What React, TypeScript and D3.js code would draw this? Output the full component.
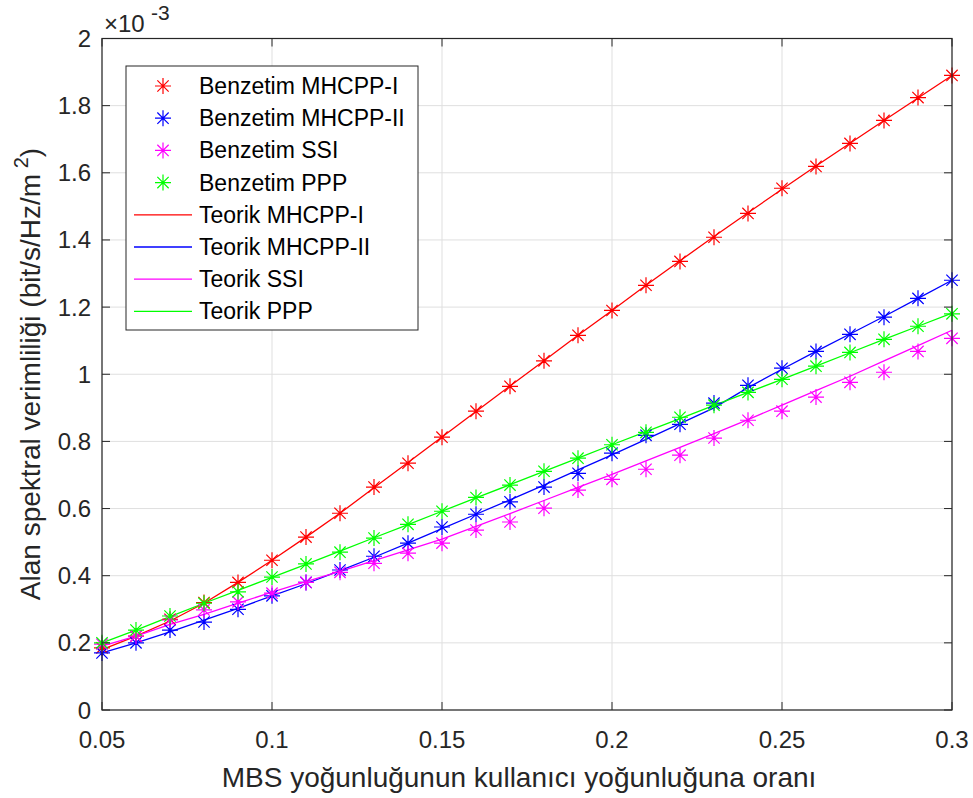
import React from "react";
import * as d3 from "d3";

const xs = [0.05,0.06,0.07,0.08,0.09,0.1,0.11,0.12,0.13,0.14,0.15,0.16,0.17,0.18,0.19,0.2,0.21,0.22,0.23,0.24,0.25,0.26,0.27,0.28,0.29,0.3];

const simMHCPP1 = [0.185,0.22,0.27,0.32,0.38,0.446,0.515,0.586,0.664,0.735,0.8125,0.89,0.964,1.04,1.116,1.19,1.265,1.336,1.408,1.479,1.554,1.619,1.6875,1.756,1.824,1.89];
const simMHCPP2 = [0.17,0.2,0.238,0.262,0.30,0.34,0.38,0.417,0.458,0.497,0.545,0.583,0.62,0.664,0.705,0.765,0.818,0.851,0.914,0.967,1.018,1.068,1.119,1.17,1.226,1.28];
const simSSI = [0.196,0.22,0.268,0.298,0.322,0.348,0.38,0.41,0.437,0.467,0.497,0.536,0.56,0.601,0.655,0.687,0.717,0.759,0.81,0.863,0.89,0.932,0.976,1.006,1.068,1.107];
const simPPP = [0.2,0.238,0.28,0.318,0.352,0.396,0.435,0.47,0.512,0.553,0.592,0.633,0.67,0.711,0.75,0.79,0.827,0.872,0.908,0.946,0.985,1.024,1.065,1.104,1.143,1.18];

const thMHCPP1 = [0.18,0.22,0.265,0.318,0.38,0.446,0.515,0.586,0.662,0.737,0.813,0.889,0.965,1.04,1.116,1.19,1.265,1.338,1.41,1.481,1.551,1.62,1.688,1.756,1.823,1.89];
const thMHCPP2 = [0.17,0.2,0.233,0.268,0.303,0.34,0.376,0.415,0.455,0.497,0.54,0.583,0.626,0.67,0.715,0.76,0.806,0.853,0.9,0.96,1.015,1.068,1.12,1.172,1.226,1.28];
const thSSI = [0.19,0.22,0.255,0.285,0.318,0.351,0.382,0.413,0.445,0.477,0.509,0.547,0.585,0.624,0.663,0.702,0.742,0.782,0.823,0.865,0.908,0.951,0.994,1.04,1.085,1.131];
const thPPP = [0.2,0.238,0.278,0.318,0.356,0.395,0.434,0.473,0.513,0.552,0.592,0.632,0.671,0.711,0.75,0.79,0.829,0.868,0.907,0.946,0.985,1.024,1.064,1.104,1.143,1.182];

const xTicks = [0.05,0.1,0.15,0.2,0.25,0.3];
const yTicks = [0,0.2,0.4,0.6,0.8,1,1.2,1.4,1.6,1.8,2];

const simLabels = ["Benzetim MHCPP-I","Benzetim MHCPP-II","Benzetim SSI","Benzetim PPP"];
const thLabels = ["Teorik MHCPP-I","Teorik MHCPP-II","Teorik SSI","Teorik PPP"];
const colors = ["#ff0000","#0000ff","#ff00ff","#00ff00"];

const W = 973, H = 798;
const L = 102, R = 952, T = 38.5, B = 710;
const FONT = "'Liberation Sans', Arial, Helvetica, sans-serif";

function star(cx: number, cy: number, r: number) {
  const d = r * 0.7071;
  return `M${cx - r},${cy}H${cx + r}M${cx},${cy - r}V${cy + r}M${cx - d},${cy - d}L${cx + d},${cy + d}M${cx - d},${cy + d}L${cx + d},${cy - d}`;
}

export default function App() {
  const x = d3.scaleLinear().domain([0.05, 0.3]).range([L, R]);
  const y = d3.scaleLinear().domain([0, 2]).range([B, T]);
  const sims = [simMHCPP1, simMHCPP2, simSSI, simPPP];
  const ths = [thMHCPP1, thMHCPP2, thSSI, thPPP];
  const line = d3.line<number>().x((_, i) => x(xs[i])).y((v) => y(v));
  const tickLen = 8;
  const axisColor = "#262626";
  const lg = { x0: 126, y0: 66, x1: 418, y1: 330 };
  const rowY = (i: number) => 86 + i * 32.2;

  return (
    <svg width={W} height={H} style={{ position: "absolute", left: 0, top: 0, background: "#fff" }} fontFamily={FONT}>
      <rect x={0} y={0} width={W} height={H} fill="#fff" />
      {xTicks.map((t) => (
        <line key={"gx" + t} x1={x(t)} x2={x(t)} y1={T} y2={B} stroke="#dfdfdf" strokeWidth={1} />
      ))}
      {yTicks.map((t) => (
        <line key={"gy" + t} x1={L} x2={R} y1={y(t)} y2={y(t)} stroke="#dfdfdf" strokeWidth={1} />
      ))}
      {ths.map((s, k) => (
        <path key={"th" + k} d={line(s) || ""} fill="none" stroke={colors[k]} strokeWidth={1.3} />
      ))}
      {sims.map((s, k) => (
        <path key={"sm" + k} d={s.map((v, i) => star(x(xs[i]), y(v), 8)).join("")} fill="none" stroke={colors[k]} strokeWidth={1.2} />
      ))}
      <rect x={L} y={T} width={R - L} height={B - T} fill="none" stroke={axisColor} strokeWidth={1.2} />
      {xTicks.map((t) => (
        <g key={"xt" + t}>
          <line x1={x(t)} x2={x(t)} y1={B} y2={B - tickLen} stroke={axisColor} />
          <line x1={x(t)} x2={x(t)} y1={T} y2={T + tickLen} stroke={axisColor} />
          <text x={x(t)} y={748} textAnchor="middle" fontSize={24} fill="#262626">{String(t)}</text>
        </g>
      ))}
      {yTicks.map((t) => (
        <g key={"yt" + t}>
          <line x1={L} x2={L + tickLen} y1={y(t)} y2={y(t)} stroke={axisColor} />
          <line x1={R} x2={R - tickLen} y1={y(t)} y2={y(t)} stroke={axisColor} />
          <text x={91} y={y(t) + 8.5} textAnchor="end" fontSize={24} fill="#262626">{String(t)}</text>
        </g>
      ))}
      <text x={104} y={32} fontSize={24} fill="#262626">×10</text>
      <text x={151} y={20} fontSize={21} fill="#262626">-3</text>
      <text x={519} y={787} textAnchor="middle" fontSize={28} fill="#262626">MBS yoğunluğunun kullanıcı yoğunluğuna oranı</text>
      <text transform={`translate(40,374) rotate(-90)`} textAnchor="middle" fontSize={28} fill="#262626">
        Alan spektral verimliliği (bit/s/Hz/m<tspan dy={-12} fontSize={20}> 2</tspan><tspan dy={12}>)</tspan>
      </text>
      <rect x={lg.x0} y={lg.y0} width={lg.x1 - lg.x0} height={lg.y1 - lg.y0} fill="#fff" stroke={axisColor} strokeWidth={1} />
      {simLabels.map((lab, i) => (
        <g key={"ls" + i}>
          <path d={star(163, rowY(i), 8)} fill="none" stroke={colors[i]} strokeWidth={1.2} />
          <text x={199} y={rowY(i) + 8} fontSize={23} fill="#000">{lab}</text>
        </g>
      ))}
      {thLabels.map((lab, i) => (
        <g key={"lt" + i}>
          <line x1={134} x2={192} y1={rowY(i + 4)} y2={rowY(i + 4)} stroke={colors[i]} strokeWidth={1.3} />
          <text x={199} y={rowY(i + 4) + 8} fontSize={23} fill="#000">{lab}</text>
        </g>
      ))}
    </svg>
  );
}
